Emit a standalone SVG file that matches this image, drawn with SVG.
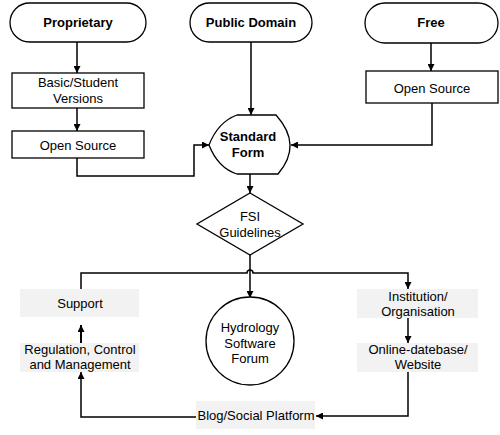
<svg xmlns="http://www.w3.org/2000/svg" width="500" height="435" viewBox="0 0 500 435">
<defs>
<marker id="arr" viewBox="0 0 8 8" refX="8" refY="4" markerUnits="userSpaceOnUse" markerWidth="7" markerHeight="7" orient="auto">
<path d="M0,0 L8,4 L0,8 z" fill="#000"/>
</marker>
</defs>
<style>
text{font-family:"Liberation Sans",Arial,sans-serif;font-size:13px;fill:#000;text-anchor:middle}
.b{font-weight:bold}
.shape{fill:#fff;stroke:#000;stroke-width:1.3}
.grey{fill:#f2f2f2;stroke:none}
.conn{fill:none;stroke:#000;stroke-width:1.5}
</style>
<rect width="500" height="435" fill="#fff"/>
<g id="connectors">
<path class="conn" d="M77,42 V73" marker-end="url(#arr)"/>
<path class="conn" d="M77,108 V131" marker-end="url(#arr)"/>
<path class="conn" d="M77,158 V176 H194 V145 H209" marker-end="url(#arr)"/>
<path class="conn" d="M251,42 V115" marker-end="url(#arr)"/>
<path class="conn" d="M431,43 V71" marker-end="url(#arr)"/>
<path class="conn" d="M432,103 V145 H291" marker-end="url(#arr)"/>
<path class="conn" d="M250,174 V193" marker-end="url(#arr)"/>
<path class="conn" d="M250,255 V298" marker-end="url(#arr)"/>
<path class="conn" d="M81,289 V273 H247 A3,3 0 0 1 253,273 H408 V289" marker-end="url(#arr)"/>
<path class="conn" d="M408,318 V343" marker-end="url(#arr)"/>
<path class="conn" d="M408,372 V416 H316" marker-end="url(#arr)"/>
<path class="conn" d="M196,417 H81 V372" marker-end="url(#arr)"/>
<path class="conn" style="stroke-width:2" d="M81,343 V325" marker-end="url(#arr)"/>
</g>
<g id="proprietary">
<rect class="shape" x="10" y="3" width="136" height="39" rx="19.5"/>
<text class="b" x="78" y="27">Proprietary</text>
</g>
<g id="public-domain">
<rect class="shape" x="190" y="3" width="122" height="39" rx="19.5"/>
<text class="b" x="251" y="27">Public Domain</text>
</g>
<g id="free">
<rect class="shape" x="365" y="3" width="133" height="40" rx="20"/>
<text class="b" x="431" y="27">Free</text>
</g>
<g id="basic-student">
<rect class="shape" x="12" y="73" width="132" height="35"/>
<text x="78" y="86.5">Basic/Student</text>
<text x="78" y="102.5">Versions</text>
</g>
<g id="open-source-left">
<rect class="shape" x="12" y="131" width="132" height="27"/>
<text x="78" y="149.5">Open Source</text>
</g>
<g id="open-source-right">
<rect class="shape" x="366" y="71" width="132" height="32"/>
<text x="432" y="92.5">Open Source</text>
</g>
<g id="standard-form">
<path class="shape" d="M237,115 L276,115 Q303,145 278,174 L237,174 Q218,168 209,145 Q218,122 237,115 Z"/>
<text class="b" x="248" y="140.5">Standard</text>
<text class="b" x="248" y="157">Form</text>
</g>
<g id="fsi-guidelines">
<polygon class="shape" points="250,193 303,224 250,255 197,224"/>
<text x="250" y="220.5">FSI</text>
<text x="250" y="236.5">Guidelines</text>
</g>
<g id="hydrology-forum">
<circle class="shape" cx="250" cy="341" r="44"/>
<text x="250" y="331.5">Hydrology</text>
<text x="250" y="347.5">Software</text>
<text x="250" y="363">Forum</text>
</g>
<g id="support">
<rect class="grey" x="20" y="289" width="119" height="28"/>
<text x="80" y="307.5">Support</text>
</g>
<g id="regulation">
<rect class="grey" x="20" y="343" width="119" height="29"/>
<text x="80" y="353.5">Regulation, Control</text>
<text x="80" y="368.5">and Management</text>
</g>
<g id="institution">
<rect class="grey" x="357" y="289" width="121" height="29"/>
<text x="418" y="300.5">Institution/</text>
<text x="418" y="316">Organisation</text>
</g>
<g id="online-database">
<rect class="grey" x="357" y="343" width="121" height="29"/>
<text x="418" y="353.5">Online-datebase/</text>
<text x="418" y="368.5">Website</text>
</g>
<g id="blog">
<rect class="grey" x="196" y="401" width="119" height="28"/>
<text x="256" y="419.5">Blog/Social Platform</text>
</g>
</svg>
